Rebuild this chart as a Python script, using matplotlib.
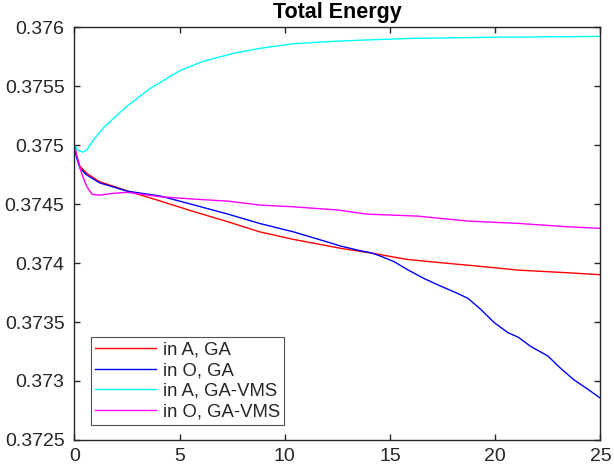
import matplotlib
matplotlib.use('Agg')
import matplotlib.pyplot as plt

plt.rcParams['font.family'] = ['Liberation Sans', 'DejaVu Sans']

# values
x_a_ga = [0, 0.1, 0.27, 0.6, 1.2, 2.5, 4.1, 5.7, 7.3, 8.8, 10.4, 12.65, 14.2,
          15.8, 17.4, 19.0, 21.1, 23.4, 25]
e_a_ga = [0.375, 0.374915, 0.37482, 0.37476, 0.37469, 0.374613, 0.374525,
          0.374435, 0.37435, 0.374265, 0.374201, 0.374125, 0.374082, 0.374031,
          0.374003, 0.373977, 0.37394, 0.373918, 0.373901]

x_o_ga = [0, 0.1, 0.27, 0.6, 1.2, 2.5, 4.1, 5.7, 7.3, 8.8, 10.4, 12.0, 12.65,
          13.6, 14.1, 14.55, 15.2, 15.8, 16.6, 17.4, 18.2, 18.7, 19.3, 19.95,
          20.6, 21.1, 21.7, 22.5, 23.1, 23.75, 24.4, 25]
e_o_ga = [0.375, 0.3749, 0.374803, 0.374746, 0.37468, 0.37461, 0.374568,
          0.374492, 0.374415, 0.374336, 0.374265, 0.37418, 0.374144, 0.374104,
          0.374087, 0.374059, 0.374011, 0.373947, 0.37387, 0.373805, 0.373743,
          0.373701, 0.373609, 0.373495, 0.37341, 0.37337, 0.373291, 0.373212,
          0.373108, 0.373008, 0.37293, 0.372853]

x_a_vms = [0, 0.15, 0.4, 0.6, 0.9, 1.4, 2.5, 3.6, 5.0, 6.1, 7.6, 8.8, 10.4,
           12.3, 13.6, 16, 20, 25]
e_a_vms = [0.375, 0.37496, 0.37494, 0.37496, 0.375042, 0.37515, 0.37533,
           0.37548, 0.37563, 0.37571, 0.37578, 0.37582, 0.37586, 0.37588,
           0.37589, 0.375905, 0.375915, 0.375922]

x_o_vms = [0, 0.15, 0.35, 0.6, 0.85, 1.2, 1.8, 2.5, 4.1, 5.7, 7.3, 8.8, 10.4,
           12.5, 13.9, 16.3, 18.7, 21.1, 23.4, 25]
e_o_vms = [0.375, 0.37489, 0.37476, 0.374647, 0.374582, 0.374576, 0.37459,
           0.3746, 0.374562, 0.374542, 0.374525, 0.374492, 0.374477, 0.37445,
           0.374415, 0.374398, 0.374356, 0.374336, 0.374308, 0.374294]

labels = ['in A, GA', 'in O, GA', 'in A, GA-VMS', 'in O, GA-VMS']
colors = ['#ff0000', '#0000ff', '#00ffff', '#ff00ff']
yticks = [0.3725, 0.373, 0.3735, 0.374, 0.3745, 0.375, 0.3755, 0.376]
ytick_labels = ['0.3725', '0.373', '0.3735', '0.374', '0.3745', '0.375', '0.3755', '0.376']
xticks = [0, 5, 10, 15, 20, 25]

fig = plt.figure(figsize=(6.14, 4.69), dpi=100)
ax = fig.add_axes([0.121, 0.062, 0.857, 0.880])

series = [(x_a_ga, e_a_ga), (x_o_ga, e_o_ga), (x_a_vms, e_a_vms), (x_o_vms, e_o_vms)]
for (xs, ys), lab, c in zip(series, labels, colors):
    ax.plot(xs, ys, color=c, linewidth=1.0, label=lab)

ax.set_xlim(0, 25)
ax.set_ylim(0.3725, 0.376)
ax.set_xticks(xticks)
ax.set_xticklabels([str(t) for t in xticks])
ax.set_yticks(yticks)
ax.set_yticklabels(ytick_labels)

ax.tick_params(direction='in', length=4, width=1.0, labelsize=14, colors='#262626',
               top=True, right=True, labeltop=False, labelright=False)
ax.tick_params(axis='x', pad=5.5)
ax.tick_params(axis='y', pad=7.0)
for s in ax.spines.values():
    s.set_linewidth(1.0)
    s.set_color('#262626')

ax.set_title('Total Energy', fontsize=15.5, fontweight='bold', pad=6.5)

leg = ax.legend(loc='lower left', bbox_to_anchor=(0.031, 0.036), borderaxespad=0,
                fontsize=13.3, frameon=True, fancybox=False, edgecolor='#262626',
                handlelength=3.3, handletextpad=0.35, labelspacing=0.2,
                borderpad=0.25)
leg.get_frame().set_linewidth(0.8)
for t in leg.get_texts():
    t.set_color('#262626')

fig.savefig('out.png', dpi=100)
